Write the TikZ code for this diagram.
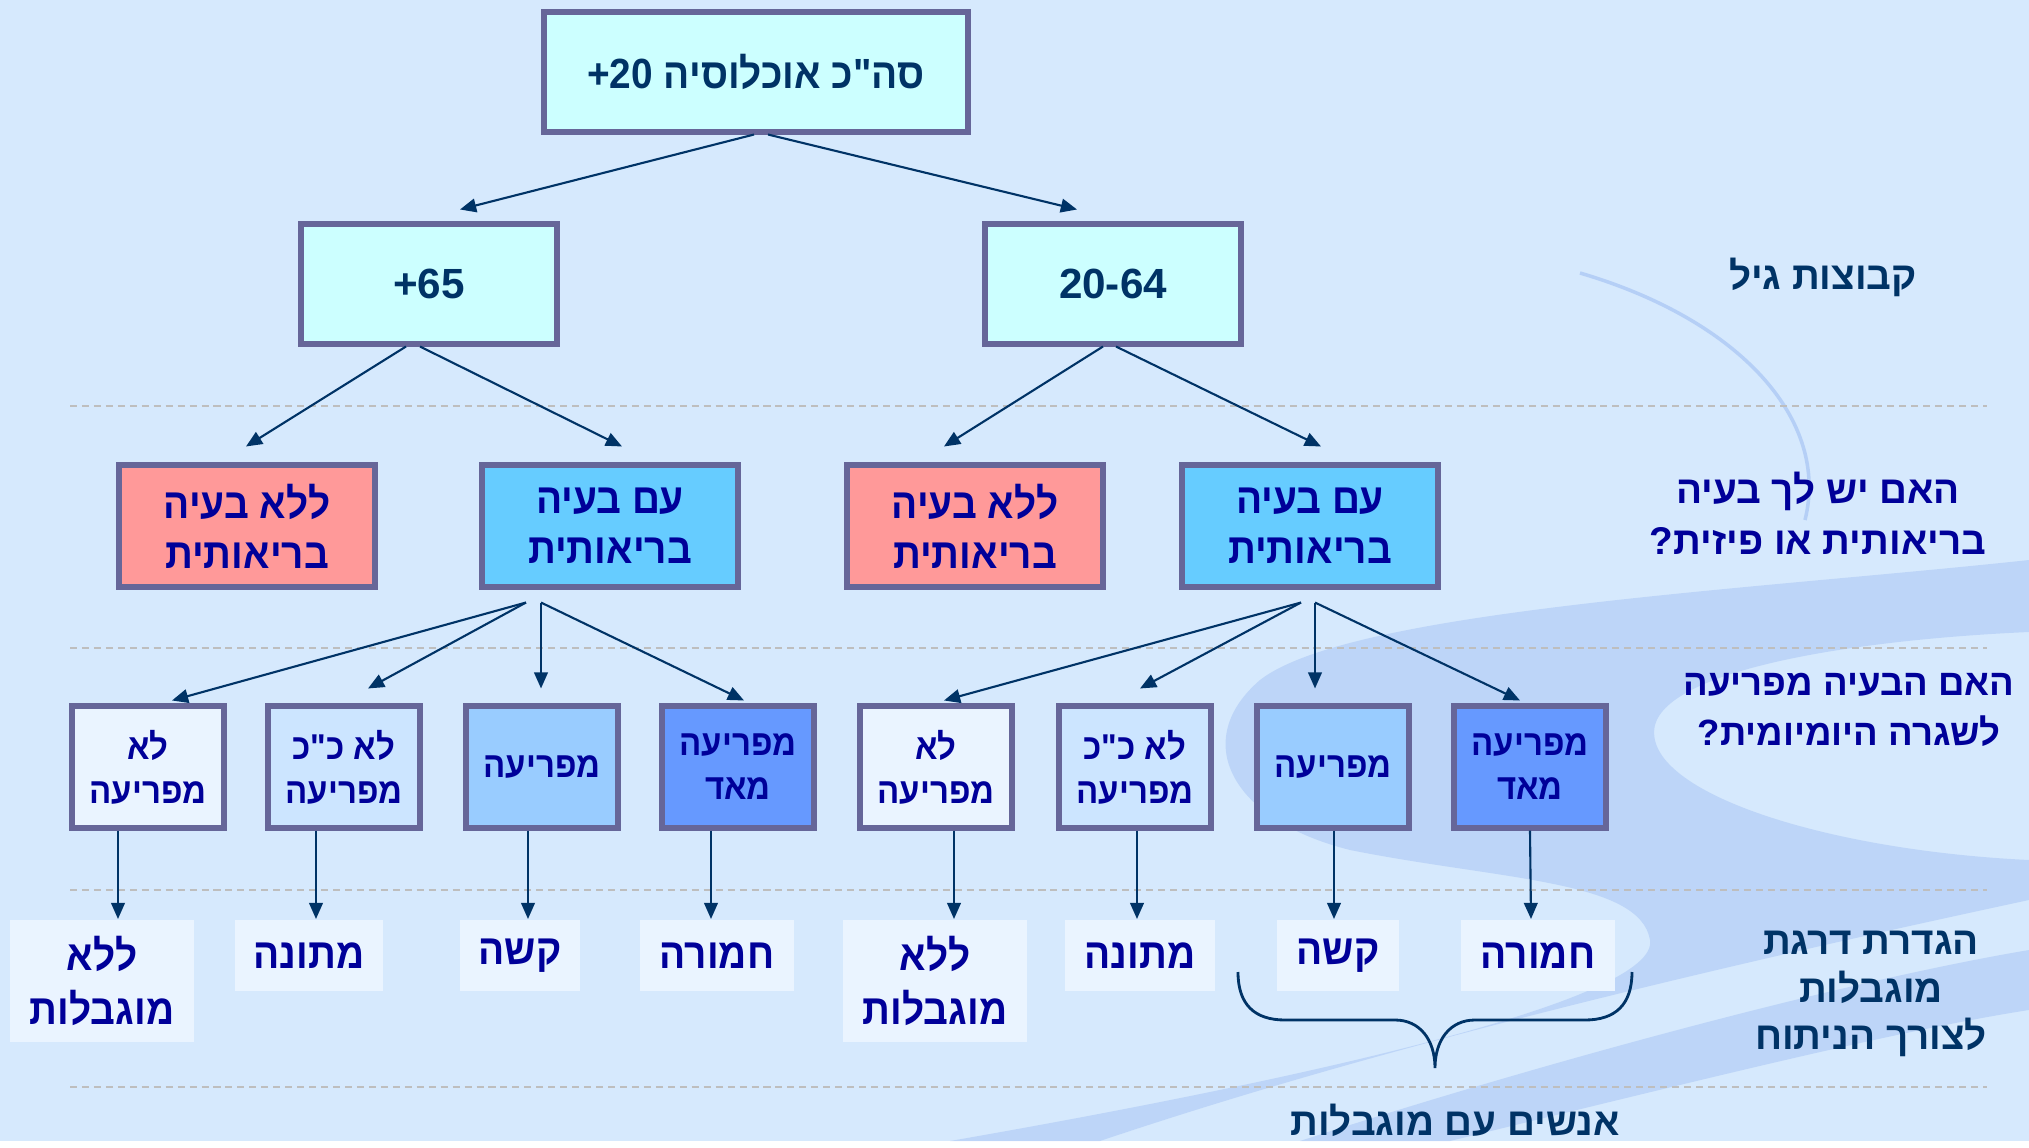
\documentclass[tikz,border=0pt]{standalone}
\usepackage{fontspec}
\setmainfont{Liberation Sans}
\newfontfamily\hebbox{Liberation Sans}[Script=Hebrew,FakeStretch=0.92]
\newfontfamily\heblab{Liberation Sans}[Script=Hebrew]
\TeXXeTstate=1
\usetikzlibrary{arrows.meta,calc}
\definecolor{bg}{RGB}{214,233,253}
\definecolor{frame}{RGB}{102,102,153}
\definecolor{navy}{RGB}{0,51,102}
\definecolor{ink}{RGB}{0,0,153}
\definecolor{cyanbox}{RGB}{204,255,255}
\definecolor{pinkbox}{RGB}{255,153,153}
\definecolor{skybox}{RGB}{102,204,255}
\definecolor{palebox}{RGB}{234,244,255}
\definecolor{lightbox}{RGB}{204,229,255}
\definecolor{midbox}{RGB}{153,204,255}
\definecolor{deepbox}{RGB}{102,153,255}
\definecolor{sepline}{RGB}{190,190,190}
\definecolor{swirl}{RGB}{160,190,242}
\newcommand{\rl}[1]{\beginR #1\endR}

\begin{document}
\begin{tikzpicture}[x=0.01cm,y=-0.01cm,
  box/.style={draw=frame,line width=1.7pt,align=center,inner sep=0pt},
  agebox/.style={box,fill=cyanbox,text=navy,minimum width=2.55cm,minimum height=1.19cm,
    font=\heblab\bfseries\fontsize{12}{14}\selectfont},
  probbox/.style={box,text=ink,minimum width=2.55cm,minimum height=1.21cm,
    font=\hebbox\bfseries\fontsize{12}{14.2}\selectfont},
  disbox/.style={box,text=ink,minimum width=1.51cm,minimum height=1.21cm,
    font=\hebbox\bfseries\fontsize{10.2}{12.5}\selectfont},
  limbox/.style={fill=palebox,text=ink,align=center,inner sep=0pt,anchor=north,
    minimum height=0.71cm,font=\hebbox\bfseries\fontsize{12}{15.4}\selectfont},
  lab/.style={align=center,font=\heblab\bfseries\fontsize{11}{14.4}\selectfont},
  arr/.style={-{Triangle[length=4.6pt,width=3.9pt]},navy,line width=0.6pt},
  sep/.style={sepline,dashed,dash pattern=on 2pt off 1.4pt,line width=0.6pt}]
\fill[bg] (0,0) rectangle (2029,1141);
\draw[swirl,line width=1pt,opacity=.6] (1580,273) .. controls (1740,320) and (1830,420) .. (1805,520);
\fill[swirl,opacity=.45] (2029,560) .. controls (1750,590) and (1350,610) .. (1260,680)
  .. controls (1190,740) and (1230,820) .. (1350,850) .. controls (1500,880) and (1640,880) .. (1650,940)
  .. controls (1660,1000) and (1300,1080) .. (950,1141) -- (1100,1141)
  .. controls (1400,1040) and (1750,960) .. (2029,900) -- (2029,860)
  .. controls (1820,850) and (1640,790) .. (1655,725) .. controls (1670,670) and (1850,640) .. (2029,632) -- cycle;
\fill[swirl,opacity=.45] (1300,1141) -- (1450,1141) .. controls (1700,1080) and (1900,1030) .. (2029,1010)
  -- (2029,950) .. controls (1850,980) and (1550,1060) .. (1300,1141) -- cycle;
\draw[sep] (70,406) -- (1987,406);
\draw[sep] (70,648) -- (1987,648);
\draw[sep] (70,890) -- (1987,890);
\draw[sep] (70,1087) -- (1987,1087);

\node[box,fill=cyanbox,text=navy,minimum width=4.23cm,minimum height=1.19cm,
  font=\hebbox\bfseries\fontsize{12}{14}\selectfont] (top) at (756,72) {\rl{סה"כ אוכלוסיה 20+}};
\node[agebox] (old) at (429,284) {65+};
\node[agebox] (young) at (1113,284) {20-64};

\node[probbox,fill=pinkbox] (oldno) at (247,526) {\rl{ללא בעיה}\\\rl{בריאותית}};
\node[probbox,fill=skybox] (oldyes) at (610,526) {\rl{עם בעיה}\\\rl{בריאותית}};
\node[probbox,fill=pinkbox] (youngno) at (975,526) {\rl{ללא בעיה}\\\rl{בריאותית}};
\node[probbox,fill=skybox] (youngyes) at (1310,526) {\rl{עם בעיה}\\\rl{בריאותית}};

\node[disbox,fill=palebox] (oa) at (148,767) {\rl{לא}\\\rl{מפריעה}};
\node[disbox,fill=lightbox] (ob) at (344,767) {\rl{לא כ"כ}\\\rl{מפריעה}};
\node[disbox,fill=midbox] (oc) at (542,767) {\rl{מפריעה}};
\node[disbox,fill=deepbox] (od) at (738,767) {\rl{מפריעה}\\\rl{מאד}};
\node[disbox,fill=palebox] (ya) at (936,767) {\rl{לא}\\\rl{מפריעה}};
\node[disbox,fill=lightbox] (yb) at (1135,767) {\rl{לא כ"כ}\\\rl{מפריעה}};
\node[disbox,fill=midbox] (yc) at (1333,767) {\rl{מפריעה}};
\node[disbox,fill=deepbox] (yd) at (1530,767) {\rl{מפריעה}\\\rl{מאד}};

\node[limbox,minimum width=1.83cm,minimum height=1.22cm] (oanone) at (102,919) {\rl{ללא}\\\rl{מוגבלות}};
\node[limbox,minimum width=1.48cm] (obmild) at (309,919) {\rl{מתונה}};
\node[limbox,minimum width=1.20cm] (ochard) at (520,919) {\rl{קשה}};
\node[limbox,minimum width=1.53cm] (odsev) at (717,919) {\rl{חמורה}};
\node[limbox,minimum width=1.84cm,minimum height=1.22cm] (yanone) at (935,919) {\rl{ללא}\\\rl{מוגבלות}};
\node[limbox,minimum width=1.49cm] (ybmild) at (1140,919) {\rl{מתונה}};
\node[limbox,minimum width=1.22cm] (ychard) at (1338,919) {\rl{קשה}};
\node[limbox,minimum width=1.54cm] (ydsev) at (1538,919) {\rl{חמורה}};

\node[lab,text=navy] (qage) at (1823,277) {\rl{קבוצות גיל}};
\node[lab,text=ink] (qprob) at (1818,513) {\rl{האם יש לך בעיה}\\\rl{בריאותית או פיזית\kern0pt?}};
\node[lab,text=ink,font=\heblab\bfseries\fontsize{10.4}{14.4}\selectfont] (qdis) at (1849,710) {\rl{האם הבעיה מפריעה}\\\rl{לשגרה היומיומית\kern0pt?}};
\node[lab,text=navy,font=\heblab\bfseries\fontsize{11}{13.4}\selectfont] (qdef) at (1871,994) {\rl{הגדרת דרגת}\\\rl{מוגבלות}\\\rl{לצורך הניתוח}};
\node[lab,text=navy] (people) at (1455,1120) {\rl{אנשים עם מוגבלות}};

\draw[arr] ($(top.south)+(-2,0)$) -- ($(old.north)+(31,-12)$);
\draw[arr] ($(top.south)+(12,0)$) -- ($(young.north)+(-36,-12)$);
\draw[arr] ($(old.south)+(-23,0)$) -- ($(oldno.north)+(-1,-16)$);
\draw[arr] ($(old.south)+(-9,0)$) -- ($(oldyes.north)+(12,-16)$);
\draw[arr] ($(young.south)+(-10,0)$) -- ($(youngno.north)+(-31,-16)$);
\draw[arr] ($(young.south)+(3,0)$) -- ($(youngyes.north)+(11,-16)$);

\coordinate (ofanl) at ($(oldyes.south)+(-84,13)$);
\coordinate (ofanr) at ($(oldyes.south)+(-69,13)$);
\coordinate (yfanl) at ($(youngyes.south)+(-9,13)$);
\coordinate (yfanr) at ($(youngyes.south)+(5,13)$);
\draw[arr] (ofanl) -- ($(oa.north)+(24,-3)$);
\draw[arr] (ofanl) -- ($(ob.north)+(24,-15)$);
\draw[arr] (ofanr) -- ($(oc.north)+(-1,-15)$);
\draw[arr] (ofanr) -- ($(od.north)+(6,-3)$);
\draw[arr] (yfanl) -- ($(ya.north)+(8,-3)$);
\draw[arr] (yfanl) -- ($(yb.north)+(5,-15)$);
\draw[arr] (yfanr) -- ($(yc.north)+(-18,-15)$);
\draw[arr] (yfanr) -- ($(yd.north)+(-10,-3)$);

\foreach \u/\a/\l/\b in {oa/-30/oanone/16,ob/-28/obmild/7,oc/-14/ochard/8,od/-27/odsev/-6,
  ya/18/yanone/19,yb/2/ybmild/-3,yc/1/ychard/-4,yd/0/ydsev/-7}
  \draw[arr] ($(\u.south)+(\a,0)$) -- ($(\l.north)+(\b,0)$);

\draw[navy,line width=0.8pt] (1238,972) .. controls (1238,1005) and (1255,1020) .. (1285,1020) -- (1395,1020)
  .. controls (1420,1020) and (1435,1040) .. (1435,1068) .. controls (1435,1040) and (1450,1020) .. (1475,1020)
  -- (1585,1020) .. controls (1615,1020) and (1632,1005) .. (1632,972);
\end{tikzpicture}
\end{document}
